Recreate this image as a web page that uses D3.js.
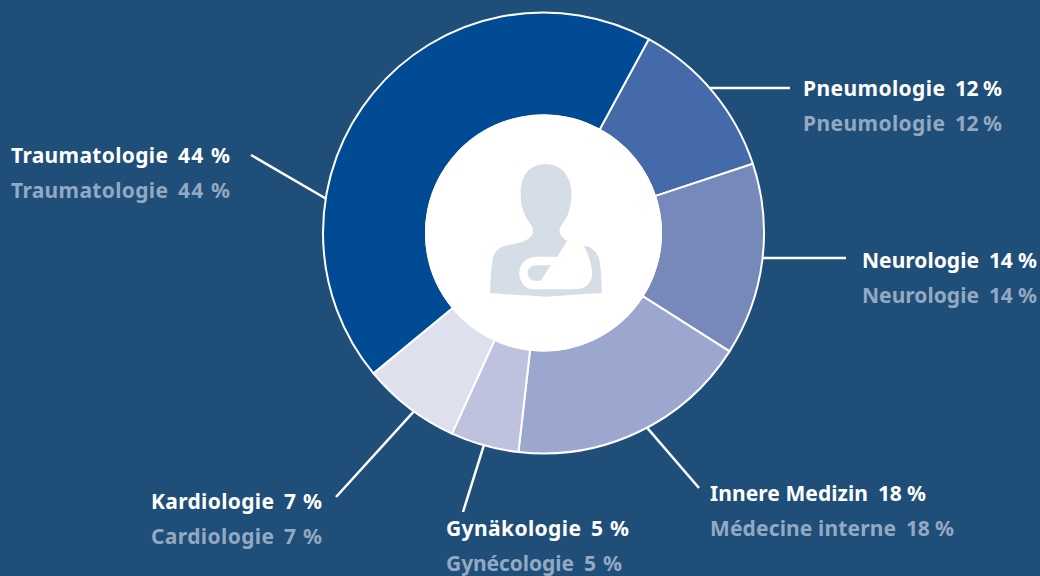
<!DOCTYPE html>
<html>
<head>
<meta charset="utf-8">
<script src="https://d3js.org/d3.v7.min.js"></script>
<style>
    html, body { margin: 0; padding: 0; background: #1f4e79; }
    svg { display: block; }
    text { font-family: "Noto Sans", sans-serif; font-weight: 700; font-size: 21px; }
</style>
</head>
<body>
<svg id="drawing_region"></svg>
<script>
// clockwise from the top right slice
const names_de = ["Pneumologie", "Neurologie", "Innere Medizin", "Gynäkologie", "Kardiologie", "Traumatologie"];
const names_fr = ["Pneumologie", "Neurologie", "Médecine interne", "Gynécologie", "Cardiologie", "Traumatologie"];
const shares = [12, 14, 18, 5, 7, 44];
// slice sizes as measured on the picture, the labels above are rounded
const slice_sizes = [12.0, 14.1, 17.8, 5.0, 7.2, 43.9];

const colors = ["#446aa9", "#7788ba", "#9ba7cf", "#bfc2df", "#dfe0ee", "#004b93"];

// where the labels and leader lines sit
const label_x = [803, 862, 710, 446, 151, 11];
const label_y = [96, 268, 501, 536, 509, 163];
const width_de = [142, 117, 158, 135, 123, 157];
const width_fr = [142, 117, 186, 128, 123, 157];
const width_pct = [47, 48, 48, 38, 38, 52];
const leader_angle = [48.9, 96.5, 152, 195.7, 216, 279];
const leader_end = [[790, 88], [846, 258], [699, 488], [463, 512], [336, 497], [251, 155]];

const config = {
    width: 1040,
    height: 576,
    cx: 543.5,
    cy: 233,
    outer: 220.5,
    inner: 117.5,
    start: 28.5,
    line_gap: 35,
    pct_gap: 10
};

const rad = d => d * Math.PI / 180;

const svg = d3.select('#drawing_region')
    .attr('width', config.width)
    .attr('height', config.height);

const chart = svg.append('g')
    .attr('transform', `translate(${config.cx}, ${config.cy})`);

const pie = d3.pie()
    .sort(null)
    .startAngle(rad(config.start))
    .endAngle(rad(config.start + 360));

const arc = d3.arc()
    .innerRadius(config.inner)
    .outerRadius(config.outer);

const color = d3.scaleOrdinal().domain(names_de).range(colors);

chart.selectAll('path.slice')
    .data(pie(slice_sizes))
    .enter()
    .append('path')
    .attr('class', 'slice')
    .attr('d', arc)
    .attr('fill', (d, i) => color(names_de[i]))
    .attr('stroke', '#fff')
    .attr('stroke-width', 2);

chart.append('circle')
    .attr('r', config.inner + 1)
    .attr('fill', '#fff');

// patient icon, traced in 3x units
const icon = chart.append('g')
    .attr('transform', 'translate(-113.5, -103) scale(0.3333)')
    .attr('fill', '#d5dde7');

icon.append('path')
    .attr('d', 'M347 103 C300 103 272 135 272 190 C272 235 285 262 300 280 C312 296 312 310 300 322 C285 338 250 342 225 348 C200 354 190 370 187 395 C182 430 181 460 181 489 C240 494 300 497 347 500 C400 497 460 492 515 489 C515 450 514 420 508 390 C502 365 485 350 462 348 C478 380 490 420 486 440 C480 465 460 478 435 478 L310 478 C285 478 268 455 268 430 C268 400 290 380 320 380 L382 380 L411 333 C395 322 385 310 390 295 C395 280 410 270 418 240 C426 210 426 180 420 160 C410 125 385 103 347 103 Z');

icon.append('path')
    .attr('d', 'M362 406 L332 452 L315 452 C300 452 293 440 293 429 C293 415 305 406 318 406 Z');

// leader lines
svg.selectAll('line.leader')
    .data(leader_angle)
    .enter()
    .append('line')
    .attr('class', 'leader')
    .attr('x1', d => config.cx + config.outer * Math.sin(rad(d)))
    .attr('y1', d => config.cy - config.outer * Math.cos(rad(d)))
    .attr('x2', (d, i) => leader_end[i][0])
    .attr('y2', (d, i) => leader_end[i][1])
    .attr('stroke', '#fff')
    .attr('stroke-width', 2.5);

function drawLabels(list, widths, dy, fill) {
    list.forEach((name, i) => {
        const y = label_y[i] + dy;
        svg.append('text')
            .attr('x', label_x[i])
            .attr('y', y)
            .attr('fill', fill)
            .attr('textLength', widths[i])
            .text(name);
        svg.append('text')
            .attr('x', label_x[i] + widths[i] + config.pct_gap)
            .attr('y', y)
            .attr('fill', fill)
            .attr('textLength', width_pct[i])
            .text(`${shares[i]} %`);
    });
}

drawLabels(names_de, width_de, 0, '#ffffff');
drawLabels(names_fr, width_fr, config.line_gap, '#93a9c2');
</script>
</body>
</html>
